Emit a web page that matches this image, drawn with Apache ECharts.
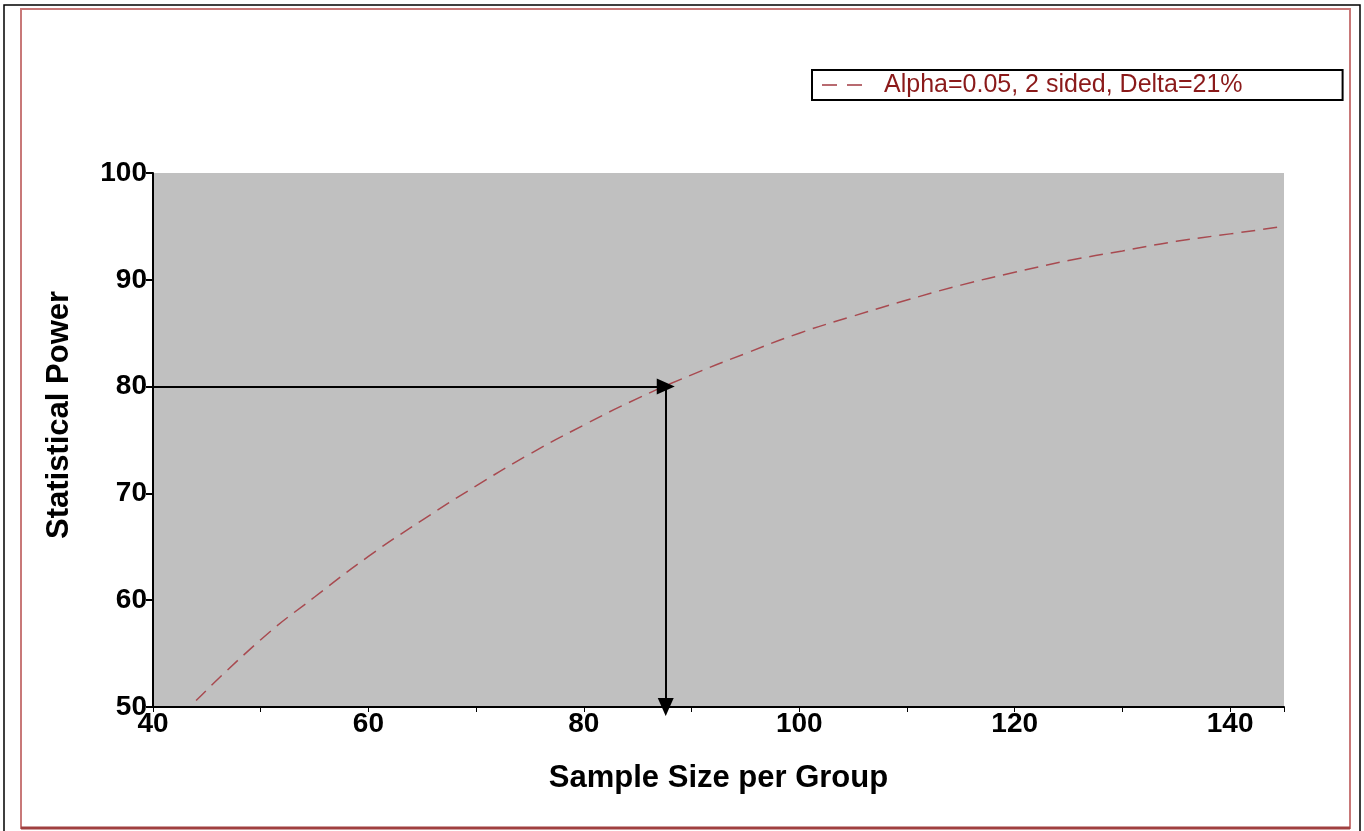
<!DOCTYPE html>
<html>
<head>
<meta charset="utf-8">
<script src="https://cdn.jsdelivr.net/npm/echarts@6/dist/echarts.min.js"></script>
<style>
    html, body { margin: 0; padding: 0; background: #fff; }
    #chart { width: 1364px; height: 831px; }
</style>
</head>
<body>
<div id="chart"></div>
<script>
    // sample size per group and power (%)
    var sampleSizes = [44, 50, 55, 60, 65, 70, 75, 80, 85, 90, 95, 100, 105, 110, 115, 120, 125, 130, 135, 140, 145]
    var powerValues = [50.6, 56.3, 60.3, 64.1, 67.5, 70.7, 73.7, 76.4, 78.9, 81.1, 83.1, 85.0, 86.6, 88.1, 89.5, 90.7, 91.8, 92.7, 93.6, 94.3, 95.0]
    var seriesName = 'Alpha=0.05, 2 sided, Delta=21%'
    // where the arrows meet: 80% power
    var targetPower = 80
    var targetN = 87.6
    var xMin = 40, xMax = 145, yMin = 50, yMax = 100

    var curve = []
    for (var i = 0; i < sampleSizes.length; i++) curve.push([sampleSizes[i], powerValues[i]])

    var myChart = echarts.init(document.getElementById('chart'))
    var boldFont = 'Liberation Sans, Arial, sans-serif'
    var option = {
        animation: false,
        backgroundColor: '#fff',
        graphic: [
            // page frame
            { type: 'polyline', silent: true, shape: { points: [[4, 831], [4, 5], [1360, 5], [1360, 831]] },
              style: { fill: null, stroke: '#000', lineWidth: 1.5 } },
            { type: 'rect', silent: true, shape: { x: 21, y: 9, width: 1329, height: 819 },
              style: { fill: null, stroke: '#c87878', lineWidth: 2 } },
            { type: 'line', silent: true, shape: { x1: 21, y1: 828, x2: 1350, y2: 828 },
              style: { stroke: '#a04040', lineWidth: 3 } }
        ],
        grid: {
            left: 153, top: 173, right: 80, bottom: 124,
            show: true, backgroundColor: '#c0c0c0', borderWidth: 0
        },
        legend: {
            left: 812, top: 70,
            padding: [2, 100, 2, 10],
            borderColor: '#000', borderWidth: 2,
            itemWidth: 40, itemHeight: 2, symbolKeepAspect: false,
            textStyle: {
                color: '#8b1a1a', fontSize: 25, fontFamily: 'Liberation Sans, Arial, sans-serif',
                padding: [0, 0, 0, 17], lineHeight: 26
            },
            data: [{ name: seriesName, icon: 'path://M0,0h15v2h-15z M25,0h15v2h-15z' }]
        },
        xAxis: {
            type: 'value', min: xMin, max: xMax, interval: 10,
            name: 'Sample Size per Group', nameLocation: 'middle', nameGap: 56,
            nameTextStyle: { fontSize: 31, fontWeight: 'bold', color: '#000', fontFamily: boldFont },
            axisLine: { onZero: false, lineStyle: { color: '#000', width: 2 } },
            axisTick: { show: true, length: 5, lineStyle: { color: '#000' } },
            axisLabel: {
                margin: 3, fontSize: 28, fontWeight: 'bold', color: '#000', fontFamily: boldFont,
                formatter: function (v) { return v % 20 === 0 ? v : '' }
            },
            splitLine: { show: false }
        },
        yAxis: {
            type: 'value', min: yMin, max: yMax, interval: 10,
            name: 'Statistical Power', nameLocation: 'middle', nameGap: 78, nameRotate: 90,
            nameTextStyle: { fontSize: 31, fontWeight: 'bold', color: '#000', fontFamily: boldFont, padding: [0, 0, 0, 50] },
            axisLine: { show: true, lineStyle: { color: '#000', width: 2 } },
            axisTick: { show: true, length: 7, lineStyle: { color: '#000', width: 2 } },
            axisLabel: { margin: 6, fontSize: 28, fontWeight: 'bold', color: '#000', fontFamily: boldFont },
            splitLine: { show: false }
        },
        series: [
            {
                name: seriesName,
                type: 'line',
                data: curve,
                smooth: true,
                symbol: 'none',
                silent: true,
                lineStyle: { color: '#a84a50', width: 1.5, type: [14, 8] },
                itemStyle: { color: '#b86a70' },
                markLine: {
                    silent: true,
                    symbol: ['none', 'triangle'],
                    symbolSize: [16, 18],
                    label: { show: false },
                    lineStyle: { color: '#000', width: 2, type: 'solid' },
                    emphasis: { disabled: true },
                    data: [
                        [{ coord: [xMin, targetPower] }, { coord: [targetN, targetPower] }],
                        [{ coord: [targetN, targetPower] }, { coord: [targetN, yMin] }]
                    ]
                }
            }
        ]
    }
    myChart.setOption(option)
</script>
</body>
</html>
